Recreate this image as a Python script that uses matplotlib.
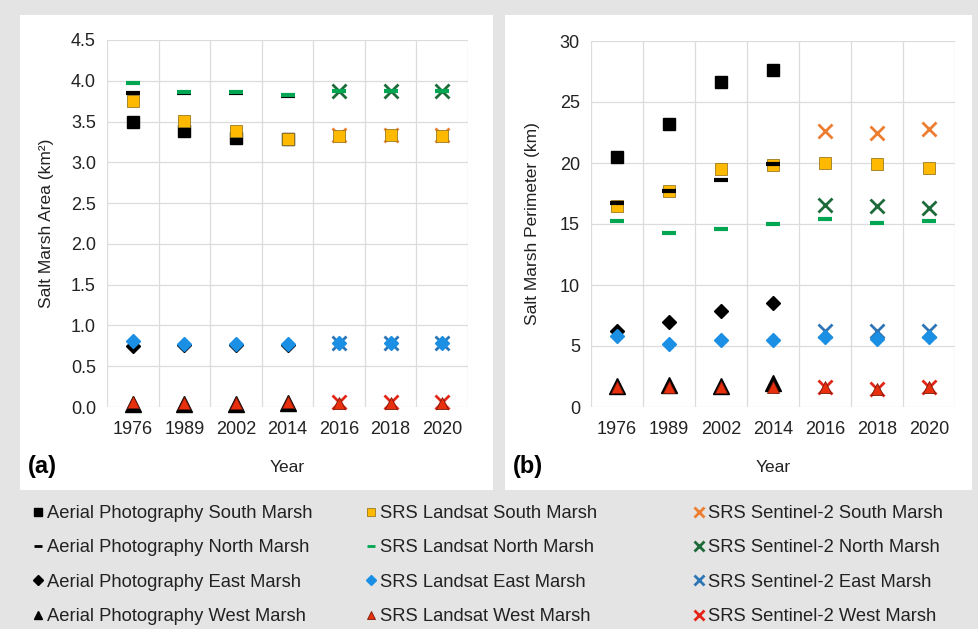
import matplotlib.pyplot as plt
import numpy as np
from matplotlib.patches import Rectangle
from matplotlib.lines import Line2D

plt.rcParams['font.family'] = ['Liberation Sans', 'DejaVu Sans']

years = ['1976', '1989', '2002', '2014', '2016', '2018', '2020']
aerial_years = ['1976', '1989', '2002', '2014']
landsat_years = years
sentinel_years = ['2016', '2018', '2020']

# (a) salt marsh area, km2
area_aerial_south = [3.50, 3.38, 3.30, 3.28]
area_aerial_north = [3.85, 3.85, 3.85, 3.81]
area_aerial_east = [0.75, 0.76, 0.76, 0.76]
area_aerial_west = [0.04, 0.04, 0.04, 0.05]
area_landsat_south = [3.75, 3.51, 3.38, 3.28, 3.32, 3.33, 3.32]
area_landsat_north = [3.97, 3.86, 3.86, 3.82, 3.87, 3.87, 3.88]
area_landsat_east = [0.81, 0.77, 0.77, 0.77, 0.79, 0.79, 0.78]
area_landsat_west = [0.06, 0.05, 0.05, 0.06, 0.05, 0.05, 0.05]
area_sentinel_south = [3.33, 3.33, 3.33]
area_sentinel_north = [3.87, 3.87, 3.88]
area_sentinel_east = [0.78, 0.78, 0.78]
area_sentinel_west = [0.06, 0.06, 0.06]

# (b) salt marsh perimeter, km
per_aerial_south = [20.5, 23.2, 26.6, 27.6]
per_aerial_north = [16.7, 17.7, 18.6, 19.9]
per_aerial_east = [6.2, 7.0, 7.9, 8.5]
per_aerial_west = [1.7, 1.8, 1.75, 2.0]
per_landsat_south = [16.5, 17.7, 19.5, 19.8, 20.0, 19.9, 19.6]
per_landsat_north = [15.25, 14.3, 14.6, 15.0, 15.4, 15.1, 15.25]
per_landsat_east = [5.8, 5.15, 5.5, 5.5, 5.7, 5.6, 5.7]
per_landsat_west = [1.6, 1.6, 1.6, 1.6, 1.6, 1.5, 1.6]
per_sentinel_south = [22.6, 22.5, 22.75]
per_sentinel_north = [16.55, 16.5, 16.3]
per_sentinel_east = [6.2, 6.2, 6.2]
per_sentinel_west = [1.6, 1.5, 1.6]

labels = ['Aerial Photography South Marsh', 'Aerial Photography North Marsh',
          'Aerial Photography East Marsh', 'Aerial Photography West Marsh',
          'SRS Landsat South Marsh', 'SRS Landsat North Marsh',
          'SRS Landsat East Marsh', 'SRS Landsat West Marsh',
          'SRS Sentinel-2 South Marsh', 'SRS Sentinel-2 North Marsh',
          'SRS Sentinel-2 East Marsh', 'SRS Sentinel-2 West Marsh']

# marker styles for each series (same order as labels)
styles = [
    dict(marker='s', color='black', ms=8.5, mec='black', zorder=3),
    dict(marker='_', color='black', ms=10, mew=3, zorder=6),
    dict(marker='D', color='black', ms=7, mec='black', zorder=3),
    dict(marker='^', color='black', ms=11.5, mec='black', zorder=3),
    dict(marker='s', color='#FFB900', ms=8.5, mec='#9a7a20', mew=0.6, zorder=5),
    dict(marker='_', color='#00A651', ms=10, mew=3, zorder=7),
    dict(marker='D', color='#1A8FE3', ms=7, mec='#1A8FE3', zorder=5),
    dict(marker='^', color='#E8300E', ms=8.5, mec='#7a1a08', mew=0.6, zorder=5),
    dict(marker='x', color='#ED7D31', ms=9.5, mew=2, zorder=4),
    dict(marker='x', color='#1E6B3A', ms=9.5, mew=2, zorder=4),
    dict(marker='x', color='#2E75B6', ms=9.5, mew=2, zorder=4),
    dict(marker='x', color='#E32618', ms=9.5, mew=2, zorder=4),
]

W, H = 979, 629
fig = plt.figure(figsize=(W / 100, H / 100), dpi=100)
fig.patch.set_facecolor('#e4e4e4')

# white panels
for x0, x1 in [(20, 493), (505, 972)]:
    fig.patches.append(Rectangle((x0 / W, 1 - 490 / H), (x1 - x0) / W, (490 - 15) / H,
                                 transform=fig.transFigure, facecolor='white',
                                 edgecolor='none', zorder=-5))

ax1 = fig.add_axes([107 / W, 1 - 407 / H, (468 - 107) / W, (407 - 40) / H])
ax2 = fig.add_axes([591 / W, 1 - 407 / H, (955 - 591) / W, (407 - 41) / H])

pos = {y: i for i, y in enumerate(years)}


def draw(ax, series):
    for (xs, vals), st in zip(series, styles):
        ax.plot([pos[y] for y in xs], vals, linestyle='none', clip_on=False, **st)


draw(ax1, [(aerial_years, area_aerial_south), (aerial_years, area_aerial_north),
           (aerial_years, area_aerial_east), (aerial_years, area_aerial_west),
           (landsat_years, area_landsat_south), (landsat_years, area_landsat_north),
           (landsat_years, area_landsat_east), (landsat_years, area_landsat_west),
           (sentinel_years, area_sentinel_south), (sentinel_years, area_sentinel_north),
           (sentinel_years, area_sentinel_east), (sentinel_years, area_sentinel_west)])
draw(ax2, [(aerial_years, per_aerial_south), (aerial_years, per_aerial_north),
           (aerial_years, per_aerial_east), (aerial_years, per_aerial_west),
           (landsat_years, per_landsat_south), (landsat_years, per_landsat_north),
           (landsat_years, per_landsat_east), (landsat_years, per_landsat_west),
           (sentinel_years, per_sentinel_south), (sentinel_years, per_sentinel_north),
           (sentinel_years, per_sentinel_east), (sentinel_years, per_sentinel_west)])

for ax, ymax, step, fmt in [(ax1, 4.5, 0.5, '{:.1f}'), (ax2, 30, 5, '{:.0f}')]:
    ax.set_facecolor('white')
    ax.set_xlim(-0.5, len(years) - 0.5)
    ax.set_ylim(0, ymax)
    yt = np.arange(0, ymax + step / 2, step)
    ax.set_yticks(yt)
    ax.set_yticklabels([fmt.format(v) for v in yt])
    ax.set_xticks(range(len(years)))
    ax.set_xticklabels(years)
    ax.set_xticks(np.arange(-0.5, len(years), 1), minor=True)
    ax.grid(axis='y', which='major', color='#dcdcdc', lw=0.9)
    ax.grid(axis='x', which='minor', color='#dcdcdc', lw=0.9)
    ax.tick_params(which='both', length=0, labelsize=13, colors='#222222')
    ax.tick_params(axis='x', pad=10)
    ax.tick_params(axis='y', pad=8)
    for s in ax.spines.values():
        s.set_visible(False)
    ax.set_axisbelow(True)
    ax.set_xlabel('Year', fontsize=12.5, labelpad=16, color='#222222')

ax1.set_ylabel('Salt Marsh Area (km²)', fontsize=12.5, color='#222222', labelpad=12)
ax2.set_ylabel('Salt Marsh Perimeter (km)', fontsize=12.5, color='#222222', labelpad=14)

fig.text(28 / W, 1 - 467 / H, '(a)', fontsize=17, fontweight='bold', va='center')
fig.text(513 / W, 1 - 467 / H, '(b)', fontsize=17, fontweight='bold', va='center')

# legend, three columns
handles = []
for st in styles:
    s = dict(st)
    s.pop('zorder')
    s['ms'] = 6 if s['marker'] != 'x' else 7
    if s['marker'] == 'D':
        s['ms'] = 5
    if s['marker'] == '_':
        s['mew'] = 2
    handles.append(Line2D([], [], linestyle='none', **s))

for col, x0 in enumerate([33, 366, 694]):
    leg = fig.legend(handles[col * 4:col * 4 + 4], labels[col * 4:col * 4 + 4],
                     loc='upper left', bbox_to_anchor=(x0 / W, 1 - 505 / H),
                     frameon=False, fontsize=13.2, handlelength=0.6, handletextpad=0.15,
                     labelspacing=0.95, borderaxespad=0, borderpad=0)
    for t in leg.get_texts():
        t.set_color('#222222')

fig.savefig('out.png', dpi=100, facecolor=fig.get_facecolor())
